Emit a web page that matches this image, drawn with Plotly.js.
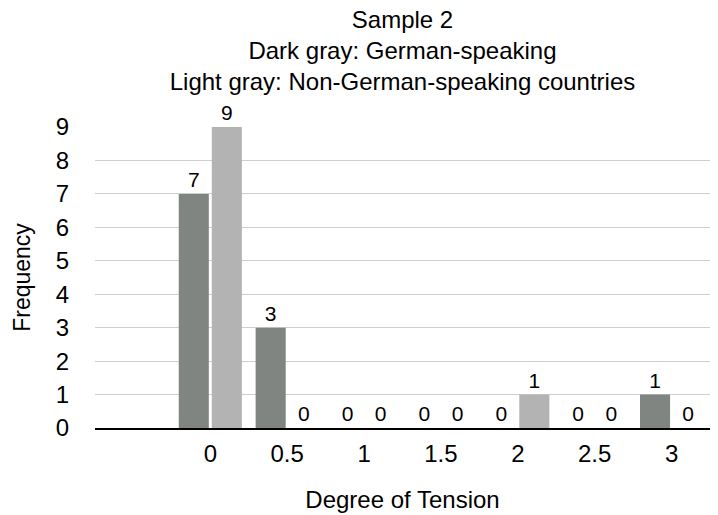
<!DOCTYPE html>
<html>
<head>
<meta charset="utf-8">
<script src="https://cdn.plot.ly/plotly-3.0.1.min.js"></script>
<style>html,body{margin:0;padding:0;background:#fff;}#chart{width:718px;height:515px;}</style>
</head>
<body>
<div id="chart"></div>
<script>
var categories = ['0', '0.5', '1', '1.5', '2', '2.5', '3'];
var germanSpeaking = [7, 3, 0, 0, 0, 0, 1];
var nonGermanSpeaking = [9, 0, 0, 0, 1, 0, 0];
var yTicks = [0, 1, 2, 3, 4, 5, 6, 7, 8, 9];

var font = 'Liberation Sans, Arial, Helvetica, sans-serif';

var traces = [
  {
    type: 'bar', name: 'German-speaking', x: categories, y: germanSpeaking,
    marker: {color: '#808582'},
    text: germanSpeaking.map(String), textposition: 'outside',
    textfont: {family: font, size: 21, color: '#000'}, cliponaxis: false,
    hoverinfo: 'x+y'
  },
  {
    type: 'bar', name: 'Non-German-speaking countries', x: categories, y: nonGermanSpeaking,
    marker: {color: '#b3b3b3'},
    text: nonGermanSpeaking.map(String), textposition: 'outside',
    textfont: {family: font, size: 21, color: '#000'}, cliponaxis: false,
    hoverinfo: 'x+y'
  }
];

var layout = {
  width: 718, height: 515,
  paper_bgcolor: '#fff', plot_bgcolor: '#fff',
  margin: {l: 95, r: 8, t: 127, b: 87},
  showlegend: false,
  barmode: 'group', bargap: 0.14, bargroupgap: 0.09,
  font: {family: font, color: '#000'},
  title: {
    text: 'Sample 2<br>Dark gray: German-speaking<br>Light gray: Non-German-speaking countries',
    font: {family: font, size: 24, color: '#000'},
    x: 0.5, xref: 'paper', xanchor: 'center',
    y: 0.946, yref: 'container', yanchor: 'top'
  },
  xaxis: {
    type: 'category', categoryorder: 'array', categoryarray: categories,
    range: [-1.5, 6.5],
    showgrid: false, zeroline: false,
    showline: true, linecolor: '#000', linewidth: 2,
    ticks: '', ticklabelstandoff: 3,
    tickfont: {family: font, size: 24, color: '#000'},
    title: {text: 'Degree of Tension', font: {family: font, size: 24, color: '#000'}, standoff: 25}
  },
  yaxis: {
    range: [0, 9], tickvals: yTicks, ticktext: yTicks.map(String),
    showgrid: true, gridcolor: '#cfcfcf', gridwidth: 1,
    zeroline: false, showline: false, ticks: '',
    ticklabelstandoff: 25,
    tickfont: {family: font, size: 24, color: '#000'},
    title: {text: 'Frequency', font: {family: font, size: 23, color: '#000'}, standoff: 18}
  }
};

Plotly.newPlot('chart', traces, layout, {displayModeBar: false, staticPlot: true});
</script>
</body>
</html>
